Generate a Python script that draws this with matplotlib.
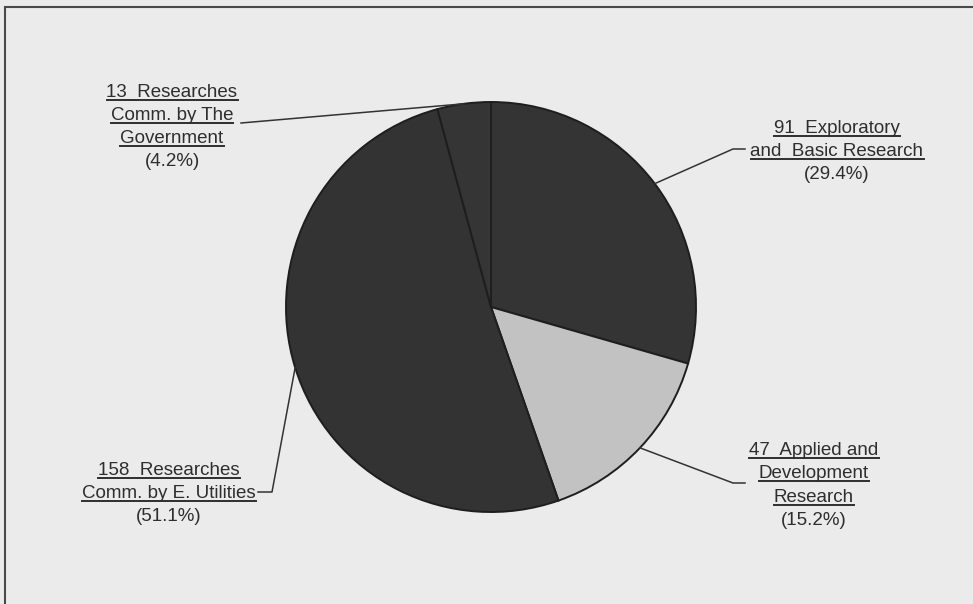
import numpy as np
import matplotlib
matplotlib.use("Agg")
import matplotlib.pyplot as plt
from matplotlib.lines import Line2D
from matplotlib.patches import Rectangle

plt.rcParams['font.family'] = ['Liberation Sans', 'DejaVu Sans']

# data: slices clockwise from 12 o'clock
counts = [91, 47, 158, 13]
shares = ["(29.4%)", "(15.2%)", "(51.1%)", "(4.2%)"]
names = [
    ["and  Basic Research"],
    ["Development", "Research"],
    ["Comm. by E. Utilities"],
    ["Comm. by The", "Government"],
]
first_words = ["Exploratory", "Applied and", "Researches", "Researches"]
slice_colors = ["#343434", "#c2c2c2", "#333333", "#353535"]

W, H = 973, 604
fig = plt.figure(figsize=(W / 100, H / 100), dpi=100, facecolor="#ebebeb")
ax = fig.add_axes([0, 0, 1, 1])
ax.axis("off")

def py(y):
    # image row -> data y
    return H - y

center = (491, py(307))
radius = 205
wedges, _ = ax.pie(counts, colors=slice_colors, startangle=90, counterclock=False,
                   center=center, radius=radius, frame=False,
                   wedgeprops=dict(edgecolor="#1e1e1e", linewidth=1.4))
ax.set_xlim(0, W)
ax.set_ylim(0, H)
ax.set_aspect("auto")
ax.axis("off")

# frame around the chart area (runs off right/bottom)
fig.patches.append(Rectangle((5 / W, -0.05), 1.1, 1 - 7 / H + 0.05, transform=fig.transFigure,
                             fill=False, edgecolor="#4a4a4a", linewidth=1.5))

txt_color = "#2e2e2e"
fs = 13.5
# label layout: (center x, baselines, knee points of leader line)
layout = [
    (837, [133, 156, 179], [(745, 149), (733, 149)]),
    (814, [455, 478, 502, 525], [(745, 483), (733, 483)]),
    (169, [475, 498, 521], [(258, 492), (272, 492)]),
    (172, [97, 120, 143, 166], [(241, 123)]),
]

underlined = []
for i, (cx, bases, knees) in enumerate(layout):
    lines = [f"{counts[i]}  {first_words[i]}"] + names[i]
    for j, s in enumerate(lines):
        t = ax.text(cx, py(bases[j]), s, ha="center", va="baseline", fontsize=fs, color=txt_color)
        underlined.append(t)
    ax.text(cx, py(bases[len(lines)]), shares[i], ha="center", va="baseline", fontsize=fs, color=txt_color)

    w = wedges[i]
    mid = np.deg2rad((w.theta1 + w.theta2) / 2)
    ex = center[0] + radius * np.cos(mid)
    ey = center[1] + radius * np.sin(mid)
    xs = [k[0] for k in knees] + [ex]
    ys = [py(k[1]) for k in knees] + [ey]
    ax.add_line(Line2D(xs, ys, color="#333333", linewidth=1.1))

# underline text lines
fig.canvas.draw()
r = fig.canvas.get_renderer()
inv = ax.transData.inverted()
for t in underlined:
    bb = t.get_window_extent(renderer=r)
    (x0, _), (x1, _) = inv.transform([(bb.x0, 0), (bb.x1, 0)])
    yb = t.get_position()[1] - 2.8
    ax.add_line(Line2D([x0, x1], [yb, yb], color=txt_color, linewidth=1.4))

fig.savefig("out.png", dpi=100, facecolor=fig.get_facecolor())
